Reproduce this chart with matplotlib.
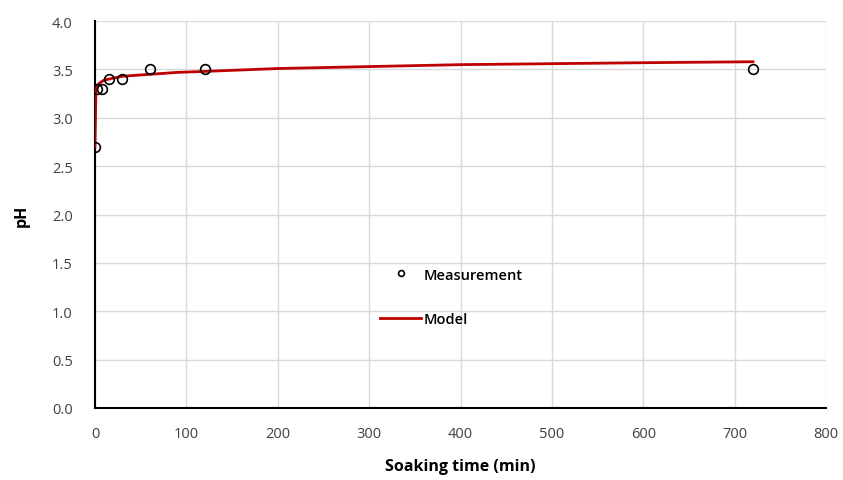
import numpy as np
import matplotlib.pyplot as plt

# Measured pH during soaking
t_meas = [0, 2, 8, 15, 30, 60, 120, 720]
ph_meas = [2.7, 3.3, 3.3, 3.4, 3.4, 3.5, 3.5, 3.5]

# Model curve
t_model = [0, 1, 3, 5, 10, 20, 30, 60, 90, 120, 200, 300, 400, 500, 600, 720]
ph_model = [2.7, 3.3, 3.34, 3.36, 3.39, 3.41, 3.43, 3.45, 3.47, 3.48, 3.51, 3.53, 3.55, 3.56, 3.57, 3.58]

plt.rcParams['font.family'] = ['Open Sans', 'DejaVu Sans']

fig = plt.figure(figsize=(8.43, 4.81), dpi=100)
ax = fig.add_axes([0.1127, 0.1497, 0.8673, 0.8043])

ax.plot(t_model, ph_model, color='#c00000', lw=2, label='Model', zorder=3)
ax.plot(t_meas, ph_meas, 'o', mfc='none', mec='black', ms=7, mew=1.2,
        label='Measurement', zorder=4)

ax.set_xlim(0, 800)
ax.set_ylim(0, 4.0)
ax.set_xticks(np.arange(0, 801, 100))
ax.set_yticks(np.arange(0, 4.01, 0.5))
ax.set_yticklabels([f"{v:.1f}" for v in np.arange(0, 4.01, 0.5)])
ax.grid(True, color='#d9d9d9', lw=1)
ax.set_axisbelow(True)

for s in ['top', 'right']:
    ax.spines[s].set_visible(False)
for s in ['left', 'bottom']:
    ax.spines[s].set_color('black')
    ax.spines[s].set_linewidth(1.5)
ax.tick_params(axis='x', length=0, labelsize=10.5, colors='#404040', pad=13)
ax.tick_params(axis='y', length=0, labelsize=10.5, colors='#404040', pad=16)

ax.set_xlabel('Soaking time (min)', fontsize=11.5, fontweight='bold', labelpad=12)
ax.set_ylabel('pH', fontsize=11.5, fontweight='bold', labelpad=16)

h, l = ax.get_legend_handles_labels()
ax.legend(h[::-1], l[::-1], loc='upper left', bbox_to_anchor=(0.372, 0.397),
          frameon=False, labelspacing=2.1, handlelength=2.8,
          handletextpad=0.15, markerscale=0.6,
          prop={'weight': 'semibold', 'size': 10.5})

fig.savefig('out.png', dpi=100)
